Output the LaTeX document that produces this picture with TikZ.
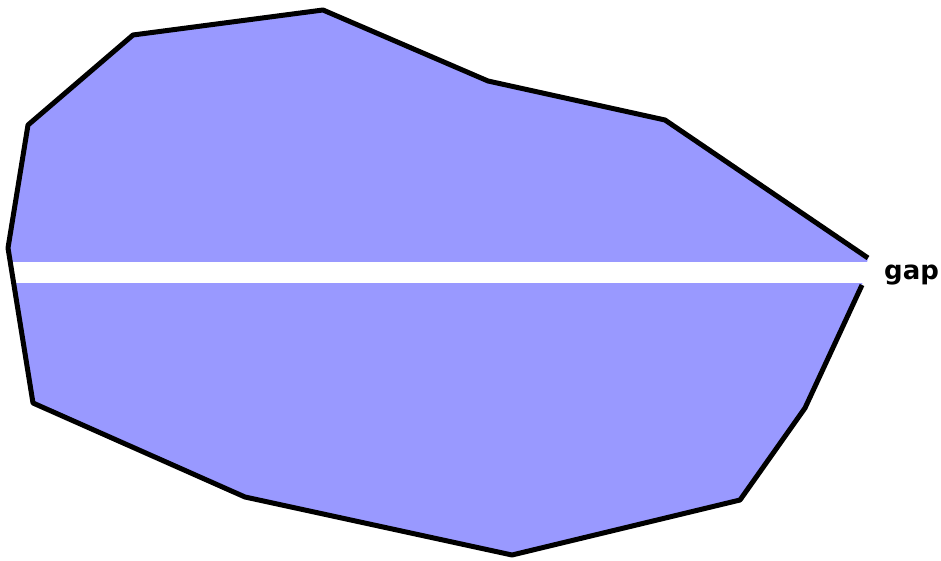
\documentclass[tikz,border=0pt]{standalone}
\usepackage{fontspec}
\setsansfont{DejaVu Sans}
\usepackage{tikz}
\usetikzlibrary{positioning}
\definecolor{blobblue}{HTML}{9999FF}
\tikzset{
  blobfill/.style={fill=blobblue},
  blobline/.style={draw=black, line width=5pt, line join=round},
  gaplabel/.style={
    font=\sffamily\bfseries\fontsize{26}{30}\selectfont,
    inner sep=0pt, anchor=base west
  },
}

\begin{document}
\begin{tikzpicture}[x=1pt,y=-1pt]
  \useasboundingbox (0,0) rectangle (941,561);

  % Outline points
  \coordinate (topend) at (868,258);
  \coordinate (botend) at (862,285);

  % Blob fill
  \fill[blobfill] (topend) -- (665,120) -- (488,81) -- (323,10) -- (133,35)
    -- (28,125) -- (8,248) -- (33,403) -- (245,497) -- (512,555)
    -- (740,500) -- (805,408) -- (botend) -- cycle;

  % The gap
  \fill[white] (12,262) rectangle (880,283);

  % Outline, left open at the gap
  \draw[blobline] (topend) -- (665,120) -- (488,81) -- (323,10) -- (133,35)
    -- (28,125) -- (8,248) -- (33,403) -- (245,497) -- (512,555)
    -- (740,500) -- (805,408) -- (botend);

  % Label
  \node[gaplabel] (gaptext) at (884,279) {gap};
\end{tikzpicture}
\end{document}
